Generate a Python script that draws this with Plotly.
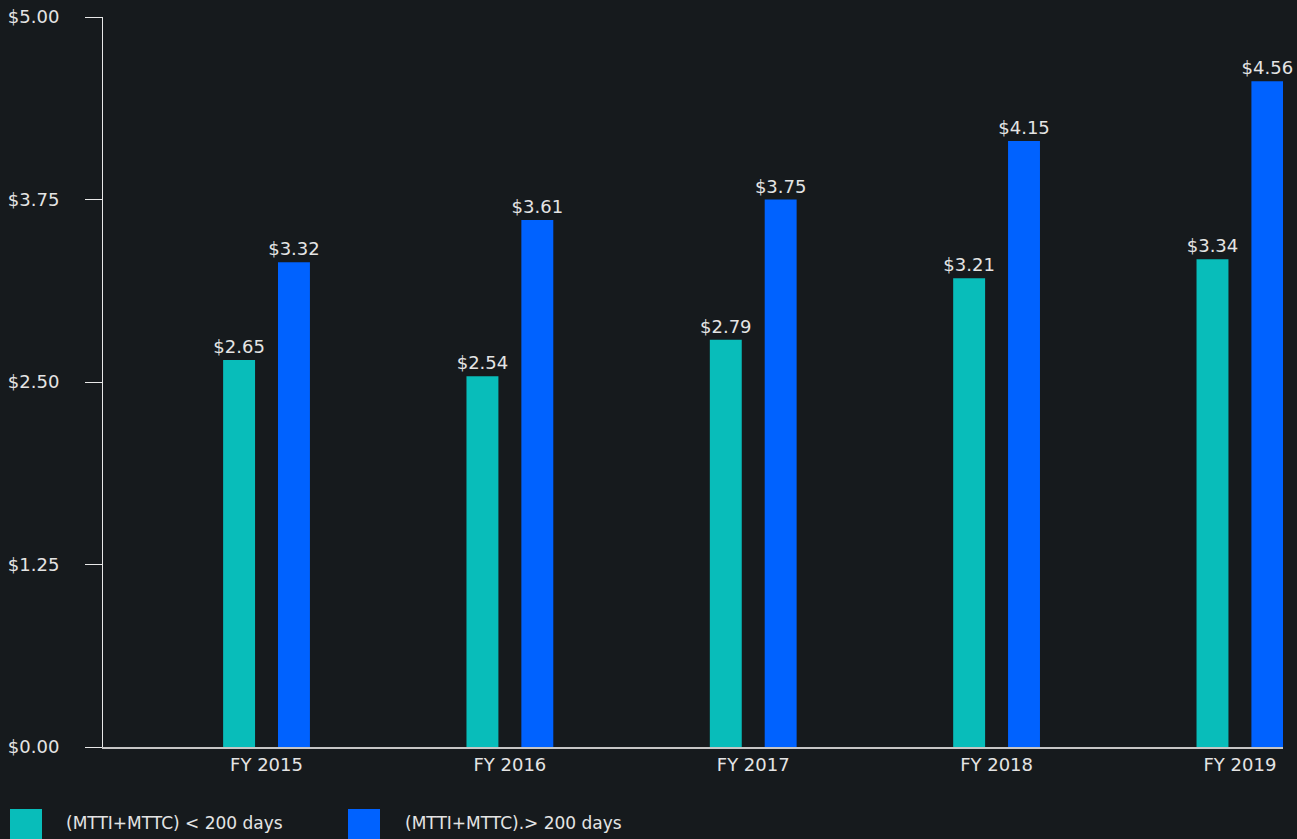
import plotly.graph_objects as go

# 数据
years = ["FY 2015", "FY 2016", "FY 2017", "FY 2018", "FY 2019"]
under_200 = [2.65, 2.54, 2.79, 3.21, 3.34]
over_200 = [3.32, 3.61, 3.75, 4.15, 4.56]
series_names = ["(MTTI+MTTC) < 200 days", "(MTTI+MTTC).> 200 days"]
series_colors = ["#08bdba", "#0062ff"]
y_ticks = [0, 1.25, 2.5, 3.75, 5.0]

bg = "#161a1d"
text_color = "#e4e4e4"
font_family = "DejaVu Sans, Noto Sans, sans-serif"
font_size = 18

fig = go.Figure()

for name, vals, color in zip(series_names, [under_200, over_200], series_colors):
    fig.add_trace(
        go.Bar(
            x=years,
            y=vals,
            name=name,
            marker_color=color,
            marker_line_width=0,
            texttemplate="$%{y:.2f}",
            textposition="outside",
            constraintext="none",
            textfont=dict(color=text_color, size=font_size, family=font_family),
            cliponaxis=False,
        )
    )

# 自定义图例 (大方块)
W, H = 1297, 839
ml, mr, mt, mb = 103, 14, 17, 92
pw, ph = W - ml - mr, H - mt - mb


def px_x(px):
    return (px - ml) / pw


def px_y(py):
    return (H - mb - py) / ph


legend_pos = [(10, 64), (348, 403)]
for (sx, tx), name, color in zip(legend_pos, series_names, series_colors):
    fig.add_shape(
        type="rect", xref="paper", yref="paper",
        x0=px_x(sx), x1=px_x(sx + 32), y0=px_y(809), y1=px_y(841),
        fillcolor=color, line_width=0,
    )
    fig.add_annotation(
        xref="paper", yref="paper", x=px_x(tx), y=px_y(823),
        text=name, showarrow=False, xanchor="left", yanchor="middle",
        font=dict(color=text_color, size=17, family=font_family),
    )

fig.update_layout(
    width=W,
    height=H,
    margin=dict(l=ml, r=mr, t=mt, b=mb, autoexpand=False),
    paper_bgcolor=bg,
    plot_bgcolor=bg,
    barmode="group",
    bargap=0.549,
    bargroupgap=0.418,
    showlegend=False,
    font=dict(family=font_family, color=text_color, size=font_size),
)

fig.update_xaxes(
    range=[-0.672, 4.177],
    automargin=False,
    showgrid=False,
    showline=True,
    linecolor="#c6c6c6",
    linewidth=2,
    ticks="",
    tickfont=dict(size=font_size, color=text_color),
    zeroline=False,
)

fig.update_yaxes(
    range=[0, 5],
    automargin=False,
    tickvals=y_ticks,
    tickformat="$.2f",
    showgrid=False,
    zeroline=False,
    showline=True,
    linecolor="#e8e8e8",
    linewidth=1,
    ticks="outside",
    ticklen=17,
    tickcolor="#e8e8e8",
    ticklabelstandoff=22,
    tickfont=dict(size=font_size, color=text_color),
)

fig.write_html(
    "out.html",
    config={"displayModeBar": False},
    post_script="document.body.style.margin='0';",
)
